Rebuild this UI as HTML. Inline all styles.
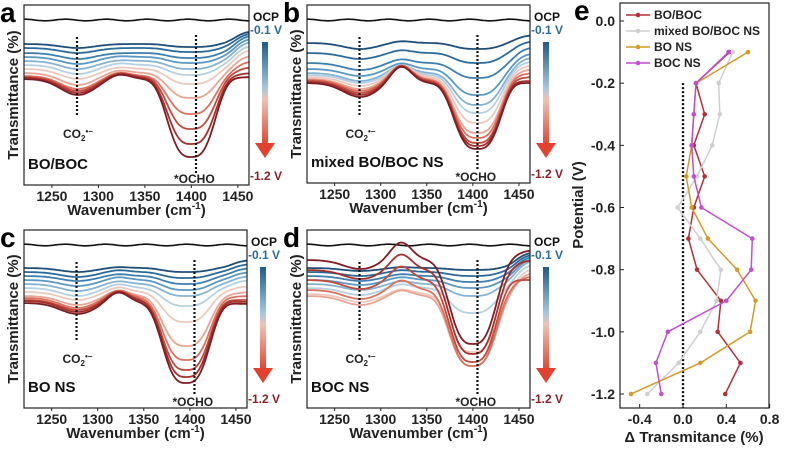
<!DOCTYPE html>
<html><head><meta charset="utf-8"><style>
body{margin:0;background:#fff;}
svg{display:block;font-family:"Liberation Sans",Arial,sans-serif;}
</style></head><body>
<svg id="fig" width="788" height="450" viewBox="0 0 788 450">
<defs>
<linearGradient id="cbar" x1="0" y1="0" x2="0" y2="1">
<stop offset="0" stop-color="#1f5a8a"/><stop offset="0.45" stop-color="#a9c9de"/><stop offset="0.55" stop-color="#f0c2b4"/><stop offset="1" stop-color="#e2412f"/>
</linearGradient>
</defs>
</svg>
<script>
const NS="http://www.w3.org/2000/svg";
const svg=document.getElementById('fig');
function mk(tag,attrs,parent){const e=document.createElementNS(NS,tag);for(const k in attrs)e.setAttribute(k,attrs[k]);(parent||svg).appendChild(e);return e;}

// ---- spectra data (px offsets inside plot, 12 potentials -0.1 ... -1.2 V) ----
const potentials=["-0.1","-0.2","-0.3","-0.4","-0.5","-0.6","-0.7","-0.8","-0.9","-1.0","-1.1","-1.2"];
const curveColors=['#1f4e79','#2b6a99','#3d7fae','#5b98c2','#85b3d3','#b5d0e3','#ecc9bd','#e9a593','#d9735f','#c04a3e','#a5302c','#7f1d22'];
const ticksX=[1250,1300,1350,1400,1450];
const aLevel=[39,43,48,52,56,60,64,68,71,72,73,74];
const aCO2=[4,5,6,7,8,9,10,12,13,14,15,16];
const aHump=[0,0,0,1,1,2,2,3,4,4,5,5];
const aOcho=[3,4,5,6,8,10,15,25,38,52,66,78];
const aEnd=[26,28,30,33,36,40,44,50,56,62,68,72];
const bLevel=[38,48,58,64,68,70,72,74,75,76,77,78];
const bCO2=[6,6,7,7,8,8,9,10,11,12,13,14];
const bHump=[2,3,4,6,8,10,12,14,15,16,16,17];
const bOcho=[6,10,15,26,32,38,46,54,58,62,64,66];
const bEnd=[30,36,42,48,52,56,60,64,68,72,76,78];
const cLevel=[38,42,46,50,54,58,62,66,68,70,71,73];
const cCO2=[4,5,5,6,7,8,8,9,10,10,11,11];
const cHump=[1,2,2,3,3,4,5,6,8,9,10,11];
const cOcho=[4,6,8,10,12,18,30,50,62,70,76,80];
const cEnd=[30,34,38,42,46,50,56,62,66,70,72,74];
const dLevel=[38,42,46,50,54,58,64,66,60,50,40,30];
const dCO2=[3,4,5,5,6,7,8,9,9,9,9,9];
const dHump=[1,2,2,3,3,4,5,6,10,14,16,18];
const dOcho=[2,4,6,8,12,25,58,70,76,82,84,84];
const dEnd=[22,24,26,28,30,34,38,42,46,50,30,20];
const panels=[
 {key:'a',x:24,y:5,w:225,h:180,lvl:aLevel,co2:aCO2,hump:aHump,ocho:aOcho,end:aEnd,oc:1400,name:'BO/BOC'},
 {key:'b',x:307,y:5,w:223,h:178,lvl:bLevel,co2:bCO2,hump:bHump,ocho:bOcho,end:bEnd,oc:1405,name:'mixed BO/BOC NS'},
 {key:'c',x:24,y:230,w:223,h:178,lvl:cLevel,co2:cCO2,hump:cHump,ocho:cOcho,end:cEnd,oc:1396,name:'BO NS'},
 {key:'d',x:307,y:230,w:223,h:178,lvl:dLevel,co2:dCO2,hump:dHump,ocho:dOcho,end:dEnd,oc:1400,name:'BOC NS'}
];
const G=(x,c,w)=>Math.exp(-((x-c)/w)*((x-c)/w));
const F=(x,c,w)=>Math.exp(-Math.pow(Math.abs(x-c)/w,3));
panels.forEach(p=>{
 const g=mk('g',{});
 
 
 const xs=v=>p.x+(v-1220)/(1462-1220)*p.w;
 const clipId='clip'+p.key;
 const cp=mk('clipPath',{id:clipId},g);mk('rect',{x:p.x,y:p.y,width:p.w,height:p.h},cp);
 const lines=mk('g',{'clip-path':'url(#'+clipId+')'},g);
 let d='';for(let v=1220;v<=1462;v+=2){const yy=p.y+15+Math.sin(v/7)*0.8;d+=(v===1220?'M':'L')+xs(v).toFixed(1)+','+yy.toFixed(1);}
 const ocp=mk('path',{d:d,fill:'none',stroke:'#111','stroke-width':1.6},lines);
 
 
 potentials.forEach((pt,i)=>{
  let d='';
  for(let v=1220;v<=1462;v+=2){
   const s=1/(1+Math.exp(-(v-1447)/6));
   const base=p.lvl[i]+p.co2[i]*G(v,1278,26)-p.hump[i]*G(v,1322,16)+p.ocho[i]*F(v,p.oc,30);
   const yy=p.y+base*(1-s)+p.end[i]*s;
   d+=(v===1220?'M':'L')+xs(v).toFixed(1)+','+yy.toFixed(1);
  }
  const c=mk('path',{d:d,fill:'none',stroke:curveColors[i],'stroke-width':1.8},lines);
  
  
 });
 mk('rect',{x:p.x,y:p.y,width:p.w,height:p.h,fill:'none',stroke:'#222','stroke-width':1.2},g);
 mk('line',{x1:xs(1277),x2:xs(1277),y1:p.y+32,y2:p.y+112,stroke:'#111','stroke-width':2.2,'stroke-dasharray':'2,2'},g);
 mk('line',{x1:xs(1405),x2:xs(1405),y1:p.y+30,y2:p.y+p.h-12,stroke:'#111','stroke-width':2.2,'stroke-dasharray':'2,2'},g);
 const t1=mk('text',{x:xs(1277)-14,y:p.y+133,'font-size':12,'font-weight':'bold',fill:'#222'},g);t1.innerHTML='CO<tspan font-size="8" dy="3">2</tspan><tspan font-size="8" dy="-7">•−</tspan>';
 mk('text',{x:xs(1405)-22,y:p.y+p.h-2,'font-size':12,'font-weight':'bold',fill:'#222'},g).textContent='*OCHO';
 const nm=mk('text',{x:p.x+4,y:p.y+p.h-16,'font-size':15,'font-weight':'bold',fill:'#111'},g);nm.textContent=p.name;
 
 
 ticksX.forEach(t=>{
  mk('line',{x1:xs(t),x2:xs(t),y1:p.y+p.h,y2:p.y+p.h+3,stroke:'#222'},g);
  mk('text',{x:xs(t),y:p.y+p.h+16,'font-size':14,'font-weight':'bold','text-anchor':'middle',fill:'#222'},g).textContent=t;
 });
 const xt=mk('text',{x:p.x+p.w/2,y:p.y+p.h+30,'font-size':15,'font-weight':'bold','text-anchor':'middle',fill:'#222'},g);
 xt.innerHTML='Wavenumber (cm<tspan font-size="10" dy="-6">-1</tspan><tspan dy="6">)</tspan>';
 
 
 const yt=mk('text',{transform:'translate('+(p.x-6)+','+(p.y+p.h/2)+') rotate(-90)','font-size':15,'font-weight':'bold','text-anchor':'middle',fill:'#222'},g);
 yt.textContent='Transmittance (%)';
 
 
 const pl=mk('text',{x:p.x-24,y:p.y+17,'font-size':28,'font-weight':'bold',fill:'#000'},g);pl.textContent=p.key;
 
 
 const bx=p.x+p.w+13;
 mk('rect',{x:bx,y:p.y+37,width:6,height:104,fill:'url(#cbar)'},g);
 mk('polygon',{points:(bx-7)+','+(p.y+138)+' '+(bx+13)+','+(p.y+138)+' '+(bx+3)+','+(p.y+153),fill:'#e2412f'},g);
 mk('text',{x:p.x+p.w+4,y:p.y+16,'font-size':12,'font-weight':'bold',fill:'#111'},g).textContent='OCP';
 mk('text',{x:p.x+p.w+1,y:p.y+29,'font-size':12,'font-weight':'bold',fill:'#2e6a9a'},g).textContent='-0.1 V';
 mk('text',{x:p.x+p.w+1,y:p.y+p.h-5,'font-size':12,'font-weight':'bold',fill:'#8b1f2a'},g).textContent='-1.2 V';
});

// ---- panel e data ----
const ePotentials=[-0.1,-0.2,-0.3,-0.4,-0.5,-0.6,-0.7,-0.8,-0.9,-1.0,-1.1,-1.2];
const eBOBOC=[0.43,0.12,0.20,0.10,0.20,0.10,0.05,0.13,0.35,0.32,0.53,0.39];
const eMixed=[0.46,0.33,0.34,0.27,0.13,-0.05,0.16,0.35,0.31,0.16,-0.04,-0.33];
const eBONS=[0.60,0.12,0.10,0.08,0.03,0.08,0.23,0.50,0.67,0.62,0.16,-0.48];
const eBOCNS=[0.42,0.12,0.10,0.08,0.10,0.17,0.64,0.63,0.40,-0.14,-0.25,-0.20];
const eXTicks=[-0.4,0.0,0.4,0.8];
const eYTicks=[0.0,-0.2,-0.4,-0.6,-0.8,-1.0,-1.2];
const eSeriesNames=['BO/BOC','mixed  BO/BOC NS','BO NS','BOC NS'];
const eColors=['#b3303a','#cfcfcf','#d49a2a','#c04fd0'];
const eSeries=[eBOBOC,eMixed,eBONS,eBOCNS];
const ex=v=>683+v*108.3;
const ey=p=>21+(-p)/1.2*373;
const ge=mk('g',{});


mk('rect',{x:620,y:3,width:149,height:405,fill:'none',stroke:'#222','stroke-width':1.2},ge);
mk('line',{x1:ex(0),x2:ex(0),y1:ey(-0.2),y2:408,stroke:'#111','stroke-width':2.4,'stroke-dasharray':'2,2'},ge);
eXTicks.forEach(t=>{mk('line',{x1:ex(t),x2:ex(t),y1:408,y2:404,stroke:'#222'},ge);
 mk('text',{x:ex(t),y:424,'font-size':14,'font-weight':'bold','text-anchor':'middle',fill:'#222'},ge).textContent=t.toFixed(1);});
eYTicks.forEach(t=>{mk('line',{x1:620,x2:624,y1:ey(t),y2:ey(t),stroke:'#222'},ge);
 mk('text',{x:615,y:ey(t)+5,'font-size':14,'font-weight':'bold','text-anchor':'end',fill:'#222'},ge).textContent=t.toFixed(1);});
const ext=mk('text',{x:694,y:442,'font-size':15,'font-weight':'bold','text-anchor':'middle',fill:'#222'},ge);ext.textContent='Δ Transmitance (%)';


const eyt=mk('text',{transform:'translate(583,205) rotate(-90)','font-size':15,'font-weight':'bold','text-anchor':'middle',fill:'#222'},ge);eyt.textContent='Potential (V)';


const el=mk('text',{x:574,y:20,'font-size':28,'font-weight':'bold',fill:'#000'},ge);el.textContent='e';


eSeries.forEach((s,si)=>{
 const pts=s.map((v,i)=>ex(v).toFixed(1)+','+ey(ePotentials[i]).toFixed(1)).join(' ');
 const pl=mk('polyline',{points:pts,fill:'none',stroke:eColors[si],'stroke-width':1.5},ge);
 
 
 s.forEach((v,i)=>{const c=mk('circle',{cx:ex(v),cy:ey(ePotentials[i]),r:2.3,fill:eColors[si]},ge);
  
  });
 const ly=15+si*16;
 const le=mk('g',{},ge);
 
 
 mk('line',{x1:626,x2:650,y1:ly,y2:ly,stroke:eColors[si],'stroke-width':1.5},le);
 mk('circle',{cx:638,cy:ly,r:2.3,fill:eColors[si]},le);
 mk('text',{x:654,y:ly+4,'font-size':12,'font-weight':'bold',fill:'#222','xml:space':'preserve'},le).textContent=eSeriesNames[si];
});
</script>
</body></html>
